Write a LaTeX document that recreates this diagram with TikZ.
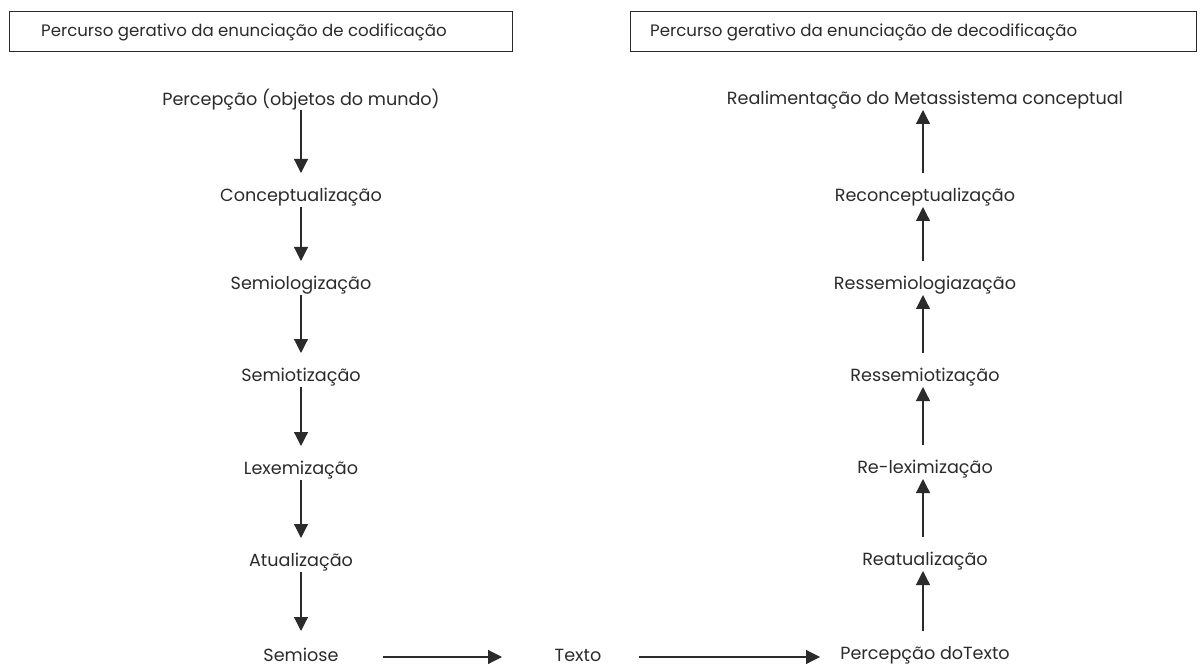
\documentclass[tikz,border=0pt]{standalone}
\usepackage{fontspec}
\setmainfont{Poppins}
\usetikzlibrary{arrows.meta}
\definecolor{ink}{HTML}{2B2B2B}
\begin{document}
\begin{tikzpicture}[x=1pt,y=-1pt,
  every node/.style={text=ink,font=\fontsize{17.6}{20}\selectfont,inner sep=0pt},
  stage/.style={anchor=center},
  heading/.style={anchor=west,font=\fontsize{16.6}{20}\selectfont},
  flow/.style={draw=ink,line width=1.2pt,-{Triangle[length=14pt,width=14pt]}}]
\useasboundingbox (0,0) rectangle (1202,668);

% header frames and titles
\draw[draw=ink,line width=0.9pt] (9,11) rectangle (512,51);
\draw[draw=ink,line width=0.9pt] (630,11) rectangle (1196,51);
\node[heading] (hl) at (41,32) {Percurso gerativo da enunciação de codificação};
\node[heading] (hr) at (650,32) {Percurso gerativo da enunciação de decodificação};

% encoding path
\node[stage] (c1) at (301,100) {Percepção (objetos do mundo)};
\node[stage] (c2) at (301,197) {Conceptualização};
\node[stage] (c3) at (301,285) {Semiologização};
\node[stage] (c4) at (301,377) {Semiotização};
\node[stage] (c5) at (301,470) {Lexemização};
\node[stage] (c6) at (301,562) {Atualização};
\node[stage] (c7) at (301,655) {Semiose};

% decoding path
\node[stage] (d7) at (925,100) {Realimentação do Metassistema conceptual};
\node[stage] (d6) at (925,197) {Reconceptualização};
\node[stage] (d5) at (925,285) {Ressemiologiazação};
\node[stage] (d4) at (925,377) {Ressemiotização};
\node[stage] (d3) at (925,469) {Re-leximização};
\node[stage] (d2) at (925,561) {Reatualização};
\node[stage] (d1) at (925,655) {Percepção doTexto};

\node[stage] (tx) at (578,655) {Texto};

% downward arrows
\foreach \a/\b in {c1/c2,c2/c3,c3/c4,c4/c5,c5/c6,c6/c7}
  \draw[flow] ([yshift=-10pt]\a.center) -- ([yshift=24pt]\b.center);
% upward arrows
\foreach \a/\b in {d1/d2,d2/d3,d3/d4,d4/d5,d5/d6,d6/d7}
  \draw[flow] ([xshift=-2pt,yshift=24pt]\a.center) -- ([xshift=-2pt,yshift=-10pt]\b.center);

% horizontal arrows
\draw[flow] ([xshift=82pt,yshift=-2pt]c7.center) -- ([xshift=-76pt,yshift=-2pt]tx.center);
\draw[flow] ([xshift=61pt,yshift=-2pt]tx.center) -- ([xshift=-105pt,yshift=-2pt]d1.center);
\end{tikzpicture}
\end{document}
